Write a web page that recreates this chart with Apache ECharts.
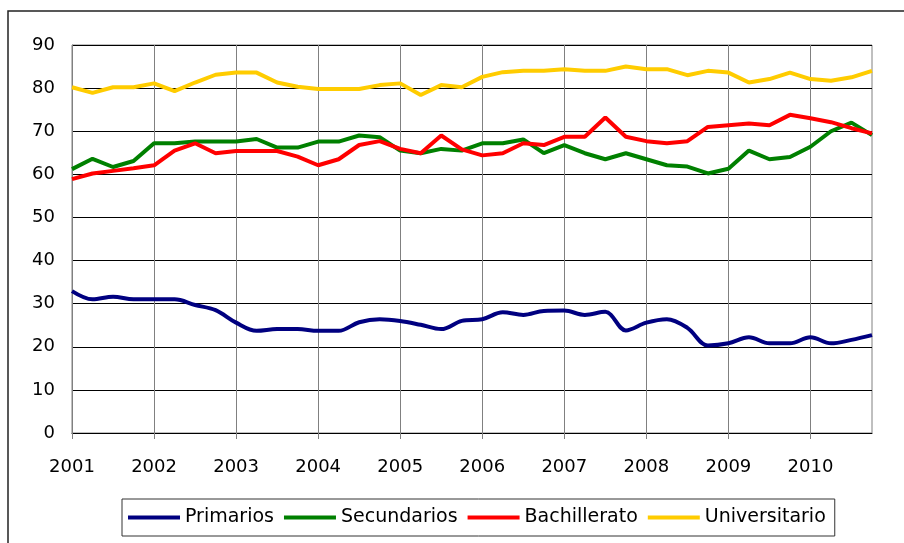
<!DOCTYPE html>
<html>
<head>
  <meta charset="utf-8">
  <script src="https://cdn.jsdelivr.net/npm/echarts@6/dist/echarts.min.js"></script>
  <style>
    html, body { margin: 0; padding: 0; background: #fff; }
    #view { width: 904px; height: 543px; }
  </style>
</head>
<body>
<div id="view"></div>
<script>
  // trimestres 2001-2010
  var years = ['2001', '2002', '2003', '2004', '2005', '2006', '2007', '2008', '2009', '2010'];
  var quarters = ['T1', 'T2', 'T3', 'T4'];
  var categories = [];
  years.forEach(function (y) {
    quarters.forEach(function (q) { categories.push(y + ' ' + q); });
  });

  var primarios = [32.9, 31.0, 31.6, 31.0, 31.0, 31.0, 29.7, 28.5, 25.6, 23.7,
    24.1, 24.1, 23.7, 23.7, 25.7, 26.4, 26.0, 25.1, 24.1, 26.0,
    26.4, 28.0, 27.4, 28.3, 28.4, 27.4, 28.1, 23.8, 25.6, 26.4,
    24.4, 20.3, 20.8, 22.2, 20.8, 20.8, 22.2, 20.8, 21.6, 22.7];
  var secundarios = [61.2, 63.6, 61.7, 63.1, 67.2, 67.2, 67.6, 67.6, 67.6, 68.2,
    66.2, 66.2, 67.6, 67.6, 69.0, 68.6, 65.5, 64.9, 65.9, 65.5,
    67.2, 67.2, 68.1, 64.9, 66.8, 64.9, 63.5, 64.9, 63.5, 62.1,
    61.8, 60.2, 61.3, 65.5, 63.5, 64.0, 66.4, 70.0, 72.0, 69.1];
  var bachillerato = [58.9, 60.2, 60.8, 61.4, 62.1, 65.5, 67.2, 64.9, 65.4, 65.4,
    65.4, 64.1, 62.1, 63.5, 66.8, 67.7, 65.9, 64.9, 69.0, 65.8,
    64.4, 64.9, 67.2, 66.8, 68.7, 68.7, 73.2, 68.7, 67.7, 67.2,
    67.7, 71.0, 71.4, 71.8, 71.4, 73.8, 73.0, 72.1, 70.7, 69.5];
  var universitario = [80.2, 78.9, 80.2, 80.2, 81.1, 79.3, 81.3, 83.1, 83.6, 83.6,
    81.3, 80.3, 79.8, 79.8, 79.8, 80.7, 81.1, 78.4, 80.7, 80.2,
    82.6, 83.7, 84.0, 84.0, 84.4, 84.0, 84.0, 85.0, 84.4, 84.4,
    83.0, 84.0, 83.6, 81.3, 82.1, 83.6, 82.1, 81.7, 82.5, 84.0];

  var font = 'DejaVu Sans';
  var chart = echarts.init(document.getElementById('view'));

  function serie(name, data, color, smooth) {
    return {
      name: name,
      type: 'line',
      data: data,
      smooth: smooth,
      symbol: 'none',
      color: color,
      lineStyle: { width: 4, color: color },
      animation: false
    };
  }

  var option = {
    animation: false,
    textStyle: { fontFamily: font },
    graphic: [{
      type: 'rect',
      shape: { x: 8, y: 11, width: 1000, height: 1000 },
      style: { fill: 'none', stroke: '#222', lineWidth: 1.5 },
      silent: true
    }],
    grid: {
      left: 72,
      top: 45,
      right: 32,
      bottom: 110,
      show: true,
      borderColor: '#808080',
      borderWidth: 1
    },
    legend: {
      left: 122,
      top: 499,
      padding: [9, 9, 9, 6],
      itemGap: 10,
      itemWidth: 52,
      itemHeight: 4,
      icon: 'rect',
      borderColor: '#333',
      borderWidth: 1,
      textStyle: { fontFamily: font, fontSize: 19, color: '#000' },
      data: ['Primarios', 'Secundarios', 'Bachillerato', 'Universitario']
    },
    xAxis: {
      type: 'category',
      boundaryGap: false,
      data: categories,
      axisLine: { lineStyle: { color: '#000', width: 1 } },
      axisTick: { interval: 3, length: 6, lineStyle: { color: '#808080' } },
      axisLabel: {
        interval: 3,
        margin: 25,
        fontSize: 18,
        color: '#000',
        fontFamily: font,
        formatter: function (v) { return v.slice(0, 4); }
      },
      splitLine: { show: true, interval: 3, lineStyle: { color: '#808080', width: 1 } }
    },
    yAxis: {
      type: 'value',
      min: 0,
      max: 90,
      interval: 10,
      axisLine: { show: true, lineStyle: { color: '#808080' } },
      axisTick: { show: false },
      axisLabel: { margin: 17, fontSize: 18, color: '#000', fontFamily: font },
      splitLine: { lineStyle: { color: '#000', width: 1 } }
    },
    series: [
      serie('Primarios', primarios, '#000080', 0.35),
      serie('Secundarios', secundarios, '#008000', false),
      serie('Bachillerato', bachillerato, '#FF0000', false),
      serie('Universitario', universitario, '#FFCC00', false)
    ]
  };

  chart.setOption(option);
</script>
</body>
</html>
